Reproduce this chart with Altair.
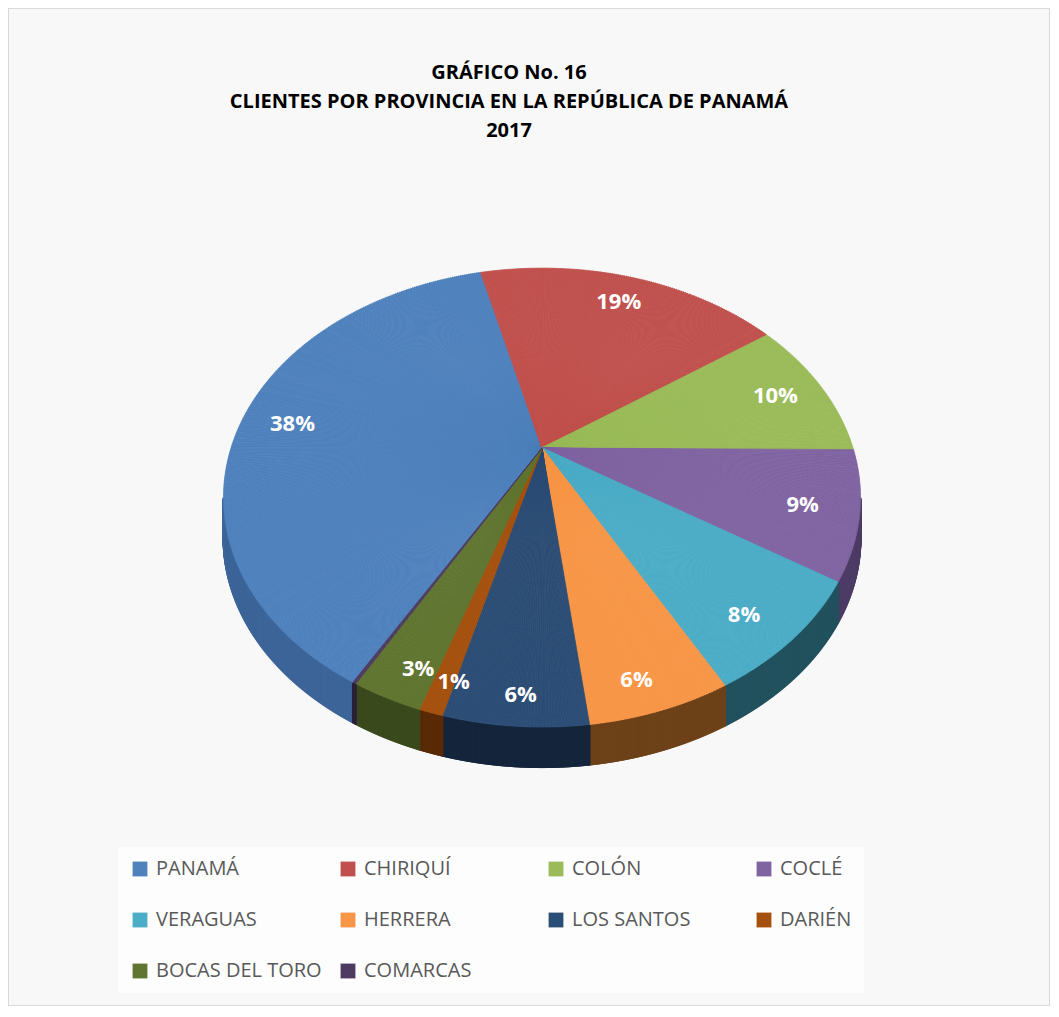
import altair as alt
import pandas as pd

# ---------------- data ----------------
PROVINCIAS = ["PANAMÁ", "CHIRIQUÍ", "COLÓN", "COCLÉ", "VERAGUAS",
              "HERRERA", "LOS SANTOS", "DARIÉN", "BOCAS DEL TORO", "COMARCAS"]
PORCENTAJES = [38, 19, 10, 9, 8, 6, 6, 1, 3, 0.15]
COLORES = ["#4F81BD", "#C0504D", "#9BBB59", "#8064A2", "#4BACC6",
           "#F79646", "#2C4D75", "#A5500E", "#5F7530", "#4D3B62"]
COLORES_LADO = ["#3D6599", "#8B3A37", "#6E8A3A", "#4E3D66", "#22525E",
                "#6E4219", "#15253B", "#5A2A07", "#3A4A1D", "#2A2138"]
TITULO = ["GRÁFICO  No.  16",
          "CLIENTES  POR PROVINCIA EN LA REPÚBLICA DE PANAMÁ",
          "2017"]

df = pd.DataFrame({"provincia": PROVINCIAS, "valor": PORCENTAJES,
                   "orden": list(range(len(PROVINCIAS)))})

# ---------------- 3D pie geometry (layout constants) ----------------
W, H = 1042, 998
VX, VY = 534, 440          # projected pie centre
F, D, C, S = 1023, 3.29, 0.711, 0.7035   # perspective projection
DEPTH = 41                 # thickness of the pie
START = 3.658              # angle of first slice (radians, clockwise from back)
LR = 0.83                  # label radius fraction

color_scale = alt.Scale(domain=PROVINCIAS, range=COLORES)

base = (
    alt.Chart(df)
    .transform_joinaggregate(total="sum(valor)")
    .transform_window(acum="sum(valor)", sort=[alt.SortField("orden")], frame=[None, 0])
    .transform_calculate(t0=f"{START} + 2*PI*(datum.acum - datum.valor)/datum.total")
    .transform_calculate(t1=f"{START} + 2*PI*datum.acum/datum.total")
)

# ---- top face: thin polar sub-sectors approximating the projected ellipse ----
top = (
    base
    .transform_calculate(n="max(2, ceil(datum.valor*8))")
    .transform_calculate(k="sequence(0, datum.n)")
    .transform_flatten(["k"])
    .transform_calculate(ta="datum.t0 + (datum.t1 - datum.t0)*datum.k/datum.n")
    .transform_calculate(tb="datum.t0 + (datum.t1 - datum.t0)*(datum.k + 1)/datum.n")
    .transform_calculate(tm="(datum.ta + datum.tb)/2")
    .transform_calculate(
        pa=f"atan2(sin(datum.ta), {S}*cos(datum.ta)) + 2*PI*round((datum.ta - atan2(sin(datum.ta), {S}*cos(datum.ta)))/(2*PI))")
    .transform_calculate(
        pb=f"atan2(sin(datum.tb), {S}*cos(datum.tb)) + 2*PI*round((datum.tb - atan2(sin(datum.tb), {S}*cos(datum.tb)))/(2*PI))")
    .transform_calculate(
        r=f"{F}*sqrt(pow(sin(datum.tm),2) + {S*S}*pow(cos(datum.tm),2))/({D} + {C}*cos(datum.tm))")
    .mark_arc(strokeWidth=0.8)
    .encode(
        x=alt.value(VX), y=alt.value(VY),
        theta=alt.Theta("pa:Q", scale=None, stack=None),
        theta2=alt.Theta2("pb:Q"),
        radius=alt.Radius("r:Q", scale=None),
        color=alt.Color(
            "provincia:N", scale=color_scale,
            legend=alt.Legend(
                title=None, orient="none", legendX=110, legendY=839,
                direction="horizontal", columns=4, gridAlign="all",
                columnPadding=16, rowPadding=31, padding=12,
                symbolType="square", symbolSize=220, symbolStrokeWidth=0,
                symbolOpacity=1, labelOffset=6,
                labelFont="Open Sans", labelFontSize=20, labelColor="#595959",
                labelLimit=300, fillColor="#fdfdfd")),
        stroke=alt.Stroke("provincia:N", scale=color_scale, legend=None),
    )
)

# ---- side of the pie (front half only), drawn as thin vertical strips ----
side = (
    base
    .transform_calculate(n="max(2, ceil(datum.valor*30))")
    .transform_calculate(k="sequence(0, datum.n + 1)")
    .transform_flatten(["k"])
    .transform_calculate(t="datum.t0 + (datum.t1 - datum.t0)*datum.k/datum.n")
    .transform_filter(f"{D}*cos(datum.t) + {C} < 0")
    .transform_calculate(px=f"{VX} + {F}*sin(datum.t)/({D} + {C}*cos(datum.t))")
    .transform_calculate(py=f"{VY} - {F*S}*cos(datum.t)/({D} + {C}*cos(datum.t))")
    .transform_calculate(py2=f"datum.py + {DEPTH}")
    .mark_rule(strokeWidth=2)
    .encode(
        x=alt.X("px:Q", scale=None),
        y=alt.Y("py:Q", scale=None),
        y2="py2:Q",
        color=alt.Color("provincia:N",
                        scale=alt.Scale(domain=PROVINCIAS, range=COLORES_LADO),
                        legend=None),
    )
)

# ---- percentage labels ----
labels = (
    base
    .transform_filter("datum.valor >= 0.5")
    .transform_calculate(tm="(datum.t0 + datum.t1)/2")
    .transform_calculate(lx=f"{VX} + {F*LR}*sin(datum.tm)/({D} + {C*LR}*cos(datum.tm))")
    .transform_calculate(
        ly=f"{VY} - {F*S*LR}*cos(datum.tm)/({D} + {C*LR}*cos(datum.tm)) + 26*pow(max(0, -cos(datum.tm)), 2)")
    .transform_calculate(etiqueta="round(100*datum.valor/datum.total) + '%'")
    .mark_text(font="Open Sans", fontSize=22, fontWeight="bold", color="white")
    .encode(x=alt.X("lx:Q", scale=None), y=alt.Y("ly:Q", scale=None),
            text="etiqueta:N")
)

# ---- title ----
title = (
    alt.Chart(alt.Data(values=[{}]))
    .mark_text(text=TITULO, lineHeight=29, font="Open Sans", fontSize=20,
               fontWeight="bold", color="#000000", align="center", baseline="middle")
    .encode(x=alt.value(501), y=alt.value(65))
)

chart = (
    alt.layer(side, top, labels, title)
    .resolve_scale(color="independent")
    .properties(width=W, height=H, autosize=alt.AutoSizeParams(type="none"),
                padding=0, background="#ffffff")
    .configure_view(fill="#f8f8f8", stroke="#d9d9d9", strokeWidth=2)
)

chart.save("out.html", embed_options={"renderer": "svg", "actions": False})
